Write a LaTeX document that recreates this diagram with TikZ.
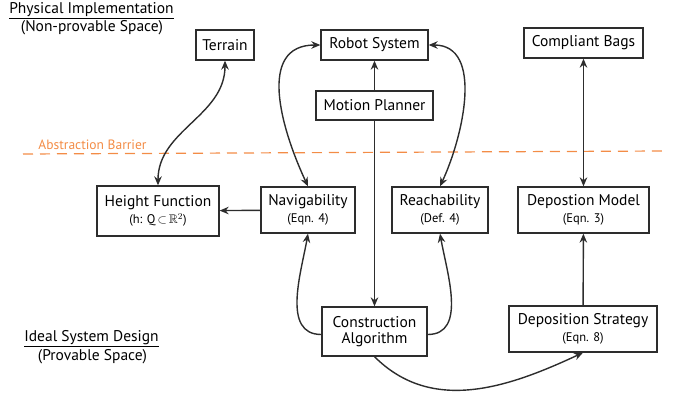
\documentclass[tikz,border=0pt]{standalone}
\usepackage{amsmath,amssymb}
\usepackage{fontspec}
\setmainfont{PT Sans}
\usepackage{tikz}
\usetikzlibrary{arrows.meta}
\definecolor{inkgray}{RGB}{45,45,45}
\definecolor{barrierorange}{RGB}{243,140,70}
\tikzset{
  blk/.style={draw=inkgray, line width=1.3pt, inner sep=0pt, align=center,
    font=\fontsize{15.5}{18}\selectfont},
  conn/.style={draw=inkgray, line width=1.4pt},
  caption/.style={align=center, font=\fontsize{15.5}{18}\selectfont}
}
\newcommand{\subline}[1]{\\[-1pt]{\fontsize{12.5}{14}\selectfont #1}}

\begin{document}
\begin{tikzpicture}[x=1pt,y=1pt,>={Stealth[length=9pt,width=7.5pt]}]
          \useasboundingbox (0,0) rectangle (673,-392);
          % titles
          \node[caption] (phys) at (91.5,-11) {\underline{Physical Implementation}};
          \node[caption] (nonprov) at (92,-28) {(Non-provable Space)};
          \node[caption] (ideal) at (91.5,-339) {\underline{Ideal System Design}};
          \node[caption] (prov) at (92.5,-357) {(Provable Space)};
          % barrier
          \node[text=barrierorange, font=\fontsize{13.5}{16}\selectfont] (barrier) at (92.5,-145) {Abstraction Barrier};
          \draw[barrierorange, line width=1.2pt, dash pattern=on 10pt off 7pt] (23,-154) -- (662,-151);
          % physical blocks
          \node[blk, minimum width=58pt, minimum height=30pt] (terrain) at (225,-45) {Terrain};
          \node[blk, minimum width=107pt, minimum height=30pt] (robot) at (374.5,-45) {Robot System};
          \node[blk, minimum width=117pt, minimum height=29pt] (planner) at (374.5,-105.5) {Motion Planner};
          \node[blk, minimum width=119pt, minimum height=30pt] (bags) at (583.5,-43) {Compliant Bags};
          % provable blocks
          \node[blk, minimum width=122pt, minimum height=50pt] (height) at (158,-211) {Height Function\subline{(h: Q\,$\subset$\,$\mathbb{R}^2$)}};
          \node[blk, minimum width=94pt, minimum height=46pt] (navig) at (308,-210) {Navigability\subline{(Eqn. 4)}};
          \node[blk, minimum width=96pt, minimum height=46pt] (reach) at (440,-210) {Reachability\subline{(Def. 4)}};
          \node[blk, minimum width=131pt, minimum height=46pt] (depmodel) at (583.5,-210) {Depostion Model\subline{(Eqn. 3)}};
          \node[blk, minimum width=105pt, minimum height=49pt] (constr) at (374.5,-331.5) {Construction\\[-2pt]Algorithm};
          \node[blk, minimum width=148pt, minimum height=46pt] (depstrat) at (583,-329) {Deposition Strategy\subline{(Eqn. 8)}};
          % connectors
          \draw[conn,<->] (terrain.south) to[out=-90,in=90] (height.north);
          \draw[conn,<->] (robot.west) to[out=180,in=115,looseness=1.15] (navig.north);
          \draw[conn,<->] (robot.east) to[out=0,in=65] (reach.north);
          \draw[conn,->] (planner) -- (robot);
          \draw[conn,->] (planner) -- (constr);
          \draw[conn,->] (navig) -- (height);
          \draw[conn,->] ([yshift=-3pt]constr.west) to[out=180,in=-100] (navig.south);
          \draw[conn,->] ([yshift=-3pt]constr.east) to[out=0,in=-80] (reach.south);
          \draw[conn,->] (constr.south) to[out=-45,in=-155] (depstrat.south);
          \draw[conn,<->] (bags) -- (depmodel);
          \draw[conn,->] (depstrat) -- (depmodel);
        \end{tikzpicture}
\end{document}
